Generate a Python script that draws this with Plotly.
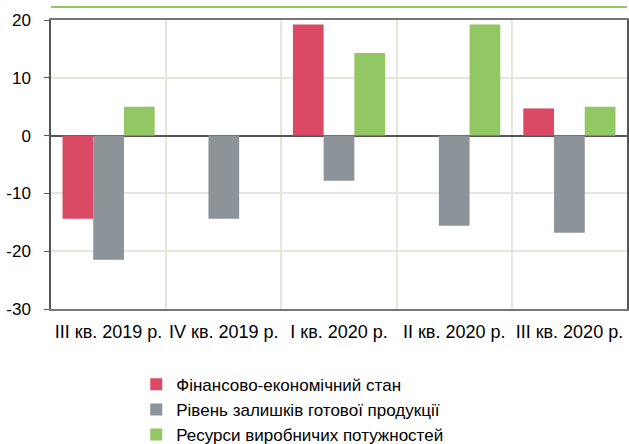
import plotly.graph_objects as go

categories = ["III кв. 2019 р.", "IV кв. 2019 р.", "I кв. 2020 р.", "II кв. 2020 р.", "III кв. 2020 р."]
financial = [-14.4, 0, 19.2, 0, 4.7]
stocks = [-21.5, -14.4, -7.8, -15.6, -16.8]
capacity = [5.0, 0, 14.3, 19.2, 5.0]
series_names = ["Фінансово-економічний стан", "Рівень залишків готової продукції", "Ресурси виробничих потужностей"]
colors = ["#db4a64", "#8c9399", "#92c864"]
y_ticks = [-30, -20, -10, 0, 10, 20]
y_tick_labels = ["-30", "-20", "-10", "0", "10", "20"]

fig = go.Figure()
for name, vals, col in zip(series_names, [financial, stocks, capacity], colors):
    fig.add_trace(go.Bar(x=categories, y=vals, name=name, marker=dict(color=col, line=dict(width=0))))

font = "Liberation Sans, Arial, sans-serif"
fig.update_layout(
    width=629, height=444,
    margin=dict(l=51, r=2, t=20, b=135, autoexpand=False),
    plot_bgcolor="white", paper_bgcolor="white",
    barmode="group", bargap=0.2, bargroupgap=0,
    font=dict(family=font, size=16, color="black"),
    showlegend=True,
    legend=dict(orientation="v", x=0.148, xanchor="left", y=-0.2, yanchor="top",
                font=dict(size=17), itemwidth=30, tracegroupgap=0, bgcolor="rgba(0,0,0,0)"),
    xaxis=dict(tickson="boundaries", showgrid=True, gridcolor="#e6e6dc", gridwidth=1.5,
               showline=True, mirror=True, linecolor="#777777", linewidth=1.5,
               ticks="", tickangle=0, tickfont=dict(size=18), ticklabelstandoff=6, automargin=False),
    yaxis=dict(range=[-30, 20], tickvals=y_ticks, ticktext=y_tick_labels,
               showgrid=True, gridcolor="#e6e6dc", gridwidth=1.5,
               zeroline=True, zerolinecolor="#555555", zerolinewidth=1.5,
               showline=True, mirror=True, linecolor="#555555", linewidth=1.5,
               ticks="outside", ticklen=5, tickcolor="#555555", tickfont=dict(size=17),
               ticklabelstandoff=10, automargin=False),
    shapes=[dict(type="line", xref="paper", yref="paper", x0=0, x1=1, y0=1.045, y1=1.045,
                 line=dict(color="#92c864", width=2))],
)

fig.write_html("out.html", config={"displayModeBar": False},
               post_script="document.body.style.margin='0px';document.body.style.overflow='hidden';")
